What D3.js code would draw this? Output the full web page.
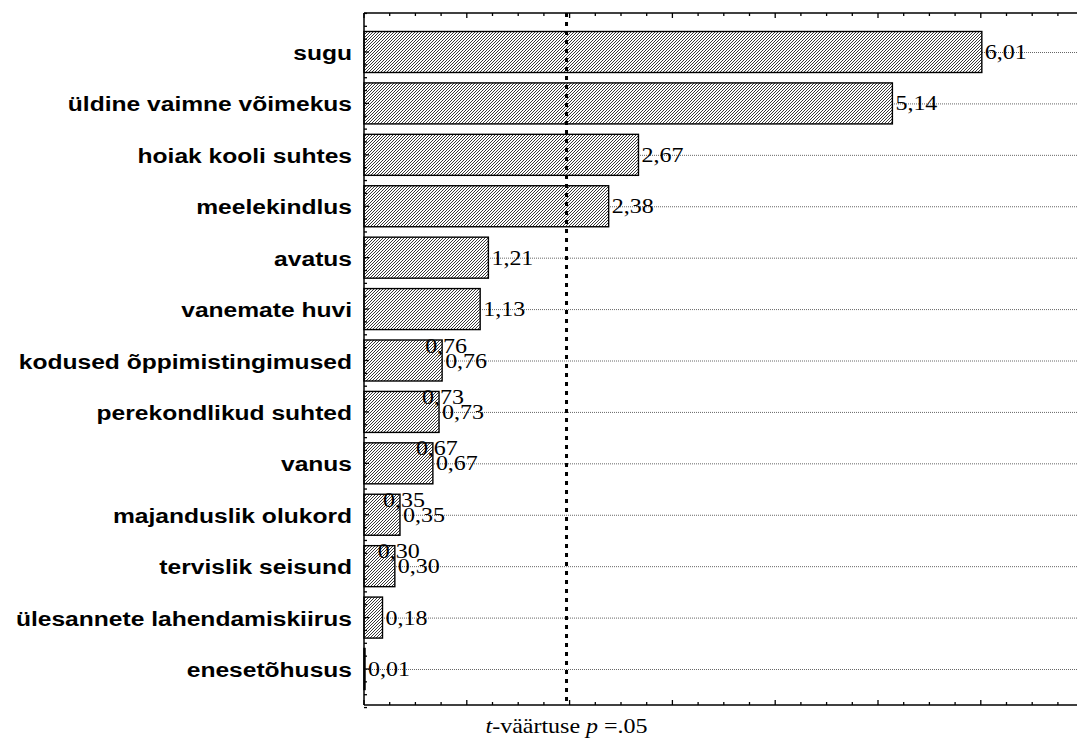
<!DOCTYPE html>
<html>
<head>
<meta charset="utf-8">
<script src="https://cdn.jsdelivr.net/npm/d3@7/dist/d3.min.js"></script>
<style>
  body { margin: 0; background: #fff; }
  svg { display: block; }
</style>
</head>
<body>
<div id="chart"></div>
<script>
var categories = ["sugu", "üldine vaimne võimekus", "hoiak kooli suhtes", "meelekindlus",
  "avatus", "vanemate huvi", "kodused õppimistingimused", "perekondlikud suhted",
  "vanus", "majanduslik olukord", "tervislik seisund", "ülesannete lahendamiskiirus", "enesetõhusus"];
var tValues = [6.01, 5.14, 2.67, 2.38, 1.21, 1.13, 0.76, 0.73, 0.67, 0.35, 0.30, 0.18, 0.01];
// labels that the original plot printed twice
var doubled = [false, false, false, false, false, false, true, true, true, true, true, false, false];
var critical = 1.97;
var xTicksMajor = [0, 1, 2, 3, 4, 5, 6, 7];

var width = 1077, height = 742;
var plotLeft = 364, plotTop = 13, plotBottom = 705;
var stretch = 1.2; // the original's text is a bit wide

var svg = d3.select("#chart")
  .append("svg")
  .attr("width", width)
  .attr("height", height);

var defs = svg.append("defs");
var pat = defs.append("pattern")
  .attr("id", "hatch")
  .attr("patternUnits", "userSpaceOnUse")
  .attr("width", 3)
  .attr("height", 3);
pat.append("rect").attr("width", 3).attr("height", 3).attr("fill", "#fff");
pat.append("path")
  .attr("d", "M-1,1 l2,-2 M0,3 l3,-3 M2,4 l2,-2")
  .attr("stroke", "#222")
  .attr("stroke-width", 0.9);

var x = d3.scaleLinear().domain([0, 7]).range([plotLeft, plotLeft + 7 * 102.8]);
var y = d3.scaleLinear().domain([0, categories.length - 1]).range([52, 669]);
var barH = 41;

// grid lines
svg.append("g").selectAll("line").data(categories)
  .enter().append("line")
  .attr("x1", plotLeft).attr("x2", width)
  .attr("y1", function(d, i) { return y(i) + 0.5; })
  .attr("y2", function(d, i) { return y(i) + 0.5; })
  .attr("stroke", "#666")
  .attr("stroke-width", 1)
  .attr("stroke-dasharray", "1,1");

// bars
svg.append("g").selectAll("rect").data(tValues)
  .enter().append("rect")
  .attr("x", x(0))
  .attr("y", function(d, i) { return y(i) - barH / 2; })
  .attr("width", function(d) { return x(d) - x(0); })
  .attr("height", barH)
  .attr("fill", "url(#hatch)")
  .attr("stroke", "#000")
  .attr("stroke-width", 1.4);

// critical value line
svg.append("line")
  .attr("x1", x(critical)).attr("x2", x(critical))
  .attr("y1", plotTop).attr("y2", plotBottom)
  .attr("stroke", "#000")
  .attr("stroke-width", 3)
  .attr("stroke-dasharray", "4,5");

// axes: ticks inward, frame on top, left and bottom
var xMinor = d3.range(0, 7.01, 0.25);
function hAxis(yPos, dir) {
  var g = svg.append("g");
  g.append("line").attr("x1", plotLeft).attr("x2", width)
    .attr("y1", yPos).attr("y2", yPos)
    .attr("stroke", "#000").attr("stroke-width", 1.5);
  g.selectAll("line.t").data(xMinor).enter().append("line")
    .attr("class", "t")
    .attr("x1", function(d) { return x(d); })
    .attr("x2", function(d) { return x(d); })
    .attr("y1", yPos)
    .attr("y2", function(d) { return yPos + dir * (xTicksMajor.indexOf(d) >= 0 ? 5 : 3); })
    .attr("stroke", "#000").attr("stroke-width", 1.3);
}
hAxis(plotTop, 1);
hAxis(plotBottom, -1);

var yMinor = d3.range(-0.75, categories.length - 1 + 0.76, 0.25);
var ga = svg.append("g");
ga.append("line").attr("x1", plotLeft).attr("x2", plotLeft)
  .attr("y1", plotTop).attr("y2", plotBottom)
  .attr("stroke", "#000").attr("stroke-width", 1.5);
ga.selectAll("line.t").data(yMinor).enter().append("line")
  .attr("class", "t")
  .attr("x1", plotLeft)
  .attr("x2", function(d) { return plotLeft + (Math.round(d) === d ? 5 : 3); })
  .attr("y1", function(d) { return y(d); })
  .attr("y2", function(d) { return y(d); })
  .attr("stroke", "#000").attr("stroke-width", 1.3);

function place(px, py) {
  return "translate(" + px + "," + py + ") scale(" + stretch + ",1)";
}

// category labels
svg.append("g").selectAll("text").data(categories)
  .enter().append("text")
  .attr("transform", function(d, i) { return place(352, y(i) + 8); })
  .attr("text-anchor", "end")
  .style("font-family", "'Liberation Sans', Arial, sans-serif")
  .style("font-weight", "bold")
  .style("font-size", "20.5px")
  .text(function(d) { return d; });

function fmt(v) { return v.toFixed(2).replace(".", ","); }

// value labels
var vl = svg.append("g")
  .style("font-family", "'Liberation Serif', 'Times New Roman', serif")
  .style("font-size", "20px")
  .attr("fill", "#000");
vl.selectAll("text.a").data(tValues).enter().append("text")
  .attr("class", "a")
  .attr("transform", function(d, i) { return place(x(d) + 3, y(i) + 7); })
  .text(fmt);
vl.selectAll("text.b").data(tValues.filter(function(d, i) { return doubled[i]; }))
  .enter().append("text")
  .attr("class", "b")
  .attr("transform", function(d) { return place(x(d) - 17, y(tValues.indexOf(d)) - 8); })
  .text(fmt);

// axis title
var title = svg.append("text")
  .attr("transform", place(x(critical), 733))
  .attr("text-anchor", "middle")
  .style("font-family", "'Liberation Serif', 'Times New Roman', serif")
  .style("font-size", "20px");
title.append("tspan").style("font-style", "italic").text("t");
title.append("tspan").text("-väärtuse ");
title.append("tspan").style("font-style", "italic").text("p");
title.append("tspan").text(" =.05");
</script>
</body>
</html>
